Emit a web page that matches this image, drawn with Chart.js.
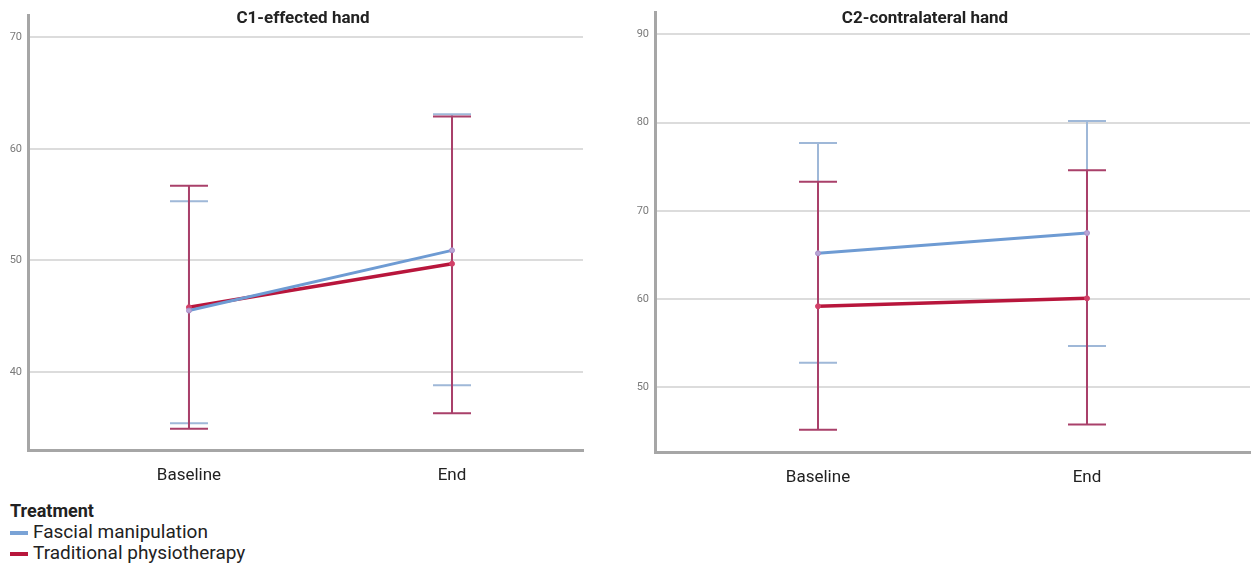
<!DOCTYPE html>
<html lang="en">
<head>
    <meta charset="UTF-8">
    <title>Treatment profile plots</title>
    <style>
        body {
            margin: 0;
            width: 1258px;
            height: 570px;
            background: #ffffff;
            font-family: Roboto, Arial, sans-serif;
            position: relative;
            overflow: hidden;
        }
        .panel { position: absolute; top: 0; height: 500px; }
        #leftPanel { left: 0; width: 600px; }
        #rightPanel { left: 628px; width: 630px; }
        .title {
            position: absolute;
            top: 7px;
            font-weight: bold;
            font-size: 17px;
            color: #222;
            transform: translateX(-50%);
            white-space: nowrap;
        }
        #legend {
            position: absolute;
            left: 10px;
            top: 500px;
            font-size: 19px;
            color: #222;
            line-height: 21px;
        }
        #legend b { display: block; font-size: 18px; }
        .swatch {
            display: inline-block;
            width: 18px;
            height: 4px;
            margin-right: 5px;
            vertical-align: middle;
        }
    </style>
</head>
<body>
    <div id="leftPanel" class="panel"><canvas id="c1Chart"></canvas></div>
    <div id="rightPanel" class="panel"><canvas id="c2Chart"></canvas></div>
    <div class="title" style="left:303px">C1-effected hand</div>
    <div class="title" style="left:925px">C2-contralateral hand</div>
    <div id="legend">
        <b>Treatment</b>
        <div><span class="swatch" style="background:#7aa3d6"></span>Fascial manipulation</div>
        <div><span class="swatch" style="background:#b8163c"></span>Traditional physiotherapy</div>
    </div>

    <script src="https://cdn.jsdelivr.net/npm/chart.js"></script>
    <script>
        const categories = ['Baseline', 'End'];

        // C1 - effected hand
        const c1Fascial = [45.5, 50.9];
        const c1FascialLow = [35.4, 38.8];
        const c1FascialHigh = [55.3, 63.1];
        const c1Trad = [45.8, 49.7];
        const c1TradLow = [34.9, 36.3];
        const c1TradHigh = [56.7, 62.9];
        const c1Ticks = [40, 50, 60, 70];

        // C2 - contralateral hand
        const c2Fascial = [65.2, 67.5];
        const c2FascialLow = [52.8, 54.7];
        const c2FascialHigh = [77.7, 80.2];
        const c2Trad = [59.2, 60.1];
        const c2TradLow = [45.2, 45.8];
        const c2TradHigh = [73.3, 74.6];
        const c2Ticks = [50, 60, 70, 80, 90];

        const blue = '#6e9bd3';
        const red = '#b8163c';
        const blueBar = '#9fb8d8';
        const redBar = '#a9406a';

        // draws the error bars under the lines
        const errorBars = {
            id: 'errorBars',
            beforeDatasetsDraw(chart) {
                const ctx = chart.ctx;
                const xs = chart.scales.x, ys = chart.scales.y;
                chart.data.datasets.forEach(ds => {
                    ctx.save();
                    ctx.strokeStyle = ds.barColor;
                    ctx.lineWidth = 2;
                    ds.low.forEach((lo, i) => {
                        const x = xs.getPixelForValue(i);
                        const yl = ys.getPixelForValue(lo);
                        const yh = ys.getPixelForValue(ds.high[i]);
                        ctx.beginPath();
                        ctx.moveTo(x, yl); ctx.lineTo(x, yh);
                        ctx.moveTo(x - 19, yl); ctx.lineTo(x + 19, yl);
                        ctx.moveTo(x - 19, yh); ctx.lineTo(x + 19, yh);
                        ctx.stroke();
                    });
                    ctx.restore();
                });
            }
        };

        function makeChart(id, f, fLo, fHi, t, tLo, tHi, ticks, yMin, yMax, xMin, xMax, opts) {
            const toPts = arr => arr.map((v, i) => ({ x: i, y: v }));
            return new Chart(document.getElementById(id), {
                type: 'line',
                data: {
                    datasets: [{
                        label: 'Fascial manipulation',
                        data: toPts(f), low: fLo, high: fHi,
                        borderColor: blue, backgroundColor: '#b9a6d6',
                        pointBorderColor: '#a88fc8', barColor: blueBar,
                        borderWidth: 3, pointRadius: 2.5, pointBorderWidth: 1
                    }, {
                        label: 'Traditional physiotherapy',
                        data: toPts(t), low: tLo, high: tHi,
                        borderColor: red, backgroundColor: '#d24068',
                        pointBorderColor: '#d24068', barColor: redBar,
                        borderWidth: 3.5, pointRadius: 2.5, pointBorderWidth: 1
                    }]
                },
                options: {
                    responsive: true,
                    maintainAspectRatio: false,
                    animation: false,
                    layout: { padding: { top: opts.top, right: opts.right, left: 0, bottom: 0 } },
                    plugins: { legend: { display: false }, tooltip: { enabled: false } },
                    scales: {
                        x: {
                            type: 'linear', min: xMin, max: xMax,
                            afterBuildTicks: s => { s.ticks = [{ value: 0 }, { value: 1 }]; },
                            afterFit: s => { s.height = opts.xh; },
                            ticks: {
                                callback: v => categories[v],
                                font: { family: 'Roboto', size: 17 },
                                color: '#222', padding: 16
                            },
                            grid: { display: false, drawTicks: false },
                            border: { color: '#a6a6a6', width: 3 }
                        },
                        y: {
                            min: yMin, max: yMax,
                            afterBuildTicks: s => { s.ticks = ticks.map(v => ({ value: v })); },
                            afterFit: s => { s.width = opts.yw; },
                            ticks: {
                                font: { family: 'Roboto', size: 11 },
                                color: '#7a7a7a', padding: 6
                            },
                            grid: { color: '#dcdcdc', lineWidth: 2, drawTicks: false },
                            border: { color: '#a6a6a6', width: 3 }
                        }
                    }
                },
                plugins: [errorBars]
            });
        }

        makeChart('c1Chart', c1Fascial, c1FascialLow, c1FascialHigh,
            c1Trad, c1TradLow, c1TradHigh, c1Ticks, 33, 72, -0.612, 1.498,
            { top: 15, right: 17, xh: 50, yw: 28 });
        makeChart('c2Chart', c2Fascial, c2FascialLow, c2FascialHigh,
            c2Trad, c2TradLow, c2TradHigh, c2Ticks, 42.68, 92.48, -0.606, 1.606,
            { top: 10, right: 8, xh: 48, yw: 27 });
    </script>
</body>
</html>
